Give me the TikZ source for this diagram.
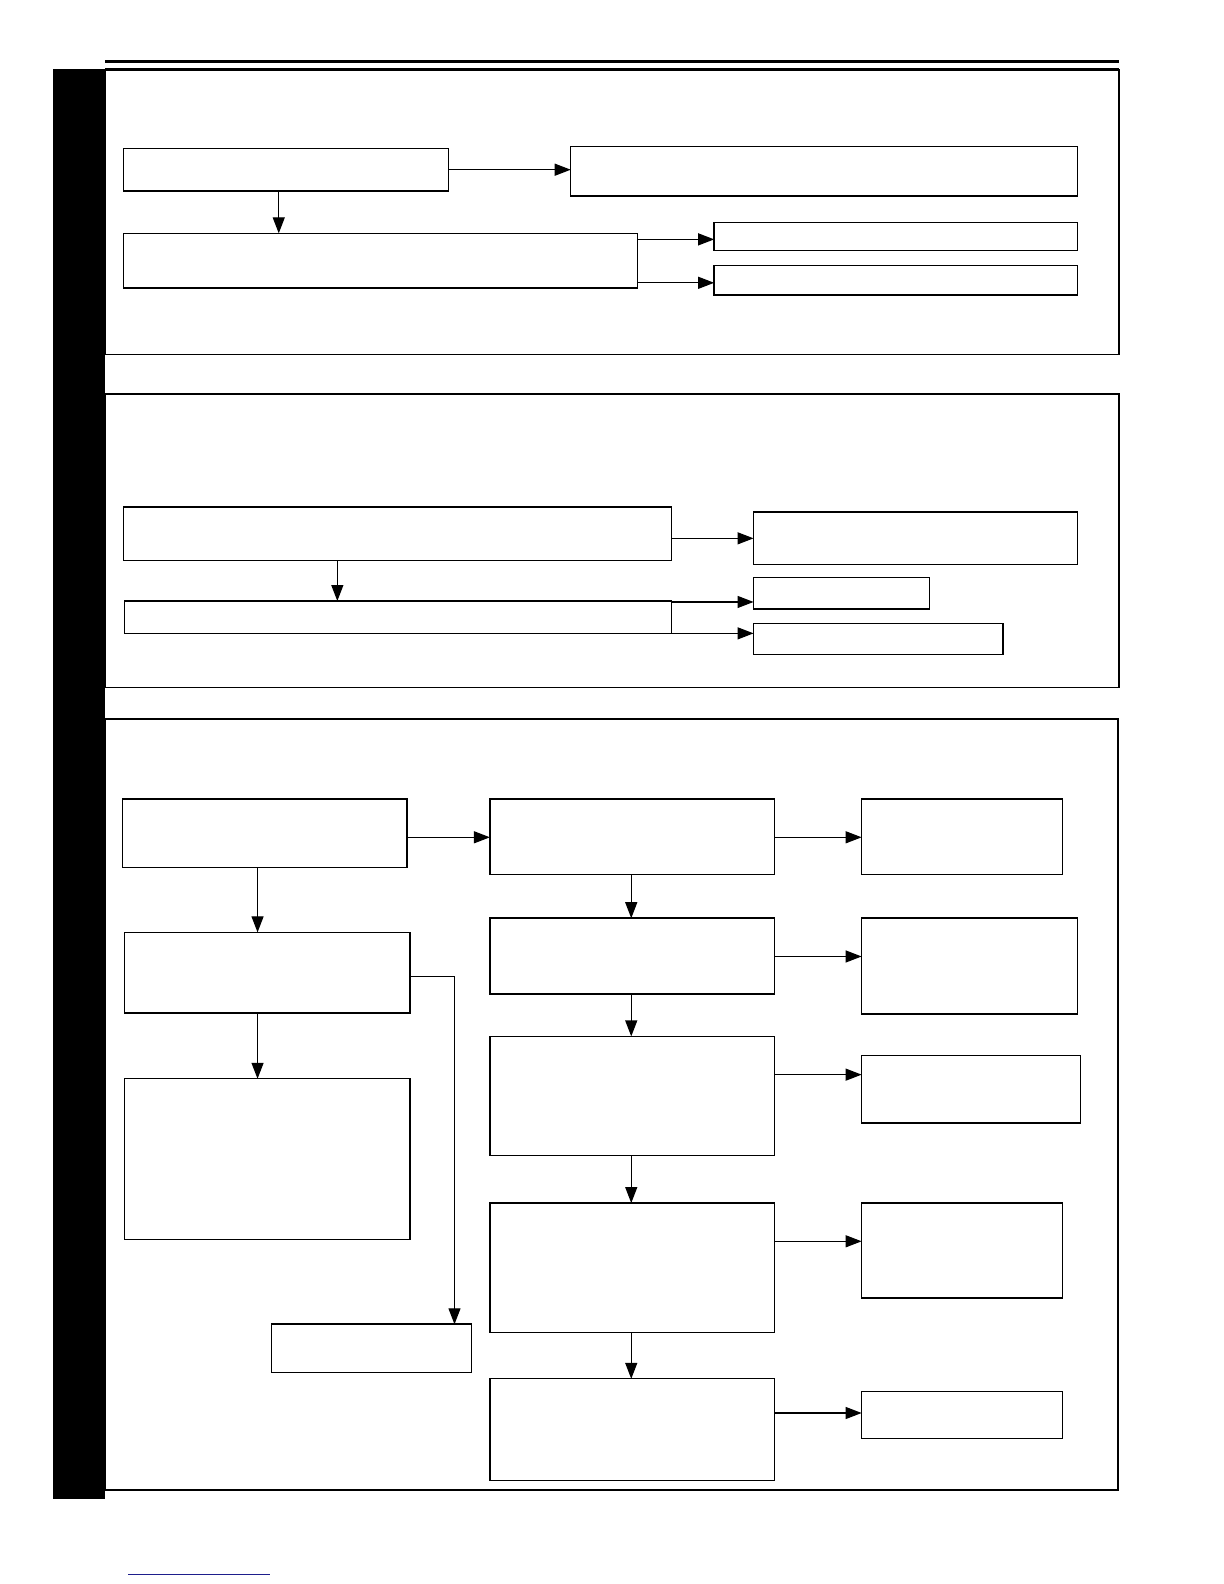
\documentclass[tikz,border=0pt]{standalone}
\usetikzlibrary{arrows.meta}
\begin{document}
\begin{tikzpicture}[x=1bp,y=-1bp,scale=1.01,transform shape,
  bx/.style={draw,line width=1.3bp,anchor=north west,inner sep=0pt,outer sep=0pt},
  arr/.style={line width=1.2bp,-{Triangle[length=16bp,width=12bp]}},
  plain/.style={line width=1.2bp}]
\useasboundingbox (0,0) rectangle (1211.88,1568.32);
\fill[white] (0,0) rectangle (1211.88,1568.32);
% header line and side bar
\draw[line width=3bp] (104,61) -- (1108,61);
\fill[black] (52,68) rectangle (104,1484);
% section frames
\draw[line width=1.3bp] (104,69) rectangle (1108,351);
\draw[line width=3bp] (104,69) -- (1108,69);
\draw[line width=1.3bp] (104,390) rectangle (1108,681);
\draw[line width=2bp] (104,712) rectangle (1107,1475);
% blue rule
\draw[line width=1.3bp,color={rgb,255:red,30;green,30;blue,140}] (127,1559) -- (267,1559);

% ---- section 1
\node[bx,minimum width=322bp,minimum height=42bp] (b11) at (122,147) {};
\node[bx,minimum width=502bp,minimum height=49bp] (b12) at (565,145) {};
\node[bx,minimum width=509bp,minimum height=54bp] (b13) at (122,231) {};
\node[bx,minimum width=360bp,minimum height=28bp] (b14) at (707,220) {};
\node[bx,minimum width=360bp,minimum height=29bp] (b15) at (707,263) {};
\draw[arr] (b11.east) -- (b11.east -| b12.west);
\draw[arr] (b11.south -| 276,0) -- (b13.north -| 276,0);
\draw[arr] (b13.east |- 0,237) -- (b14.west |- 0,237);
\draw[arr] (b13.east |- 0,280) -- (b15.west |- 0,280);

% ---- section 2
\node[bx,minimum width=543bp,minimum height=53bp] (b21) at (122,502) {};
\node[bx,minimum width=321bp,minimum height=52bp] (b22) at (746,507) {};
\node[bx,minimum width=542bp,minimum height=32bp] (b23) at (123,595) {};
\node[bx,minimum width=174bp,minimum height=31bp] (b24) at (746,572) {};
\node[bx,minimum width=247bp,minimum height=31bp] (b25) at (746,617) {};
\draw[arr] (b21.east |- 0,533) -- (b22.west |- 0,533);
\draw[arr] (b21.south -| 334,0) -- (b23.north -| 334,0);
\draw[arr] (b23.north east |- 0,596) -- (b24.west |- 0,596);
\draw[arr] (b23.south east) -- (b23.south east -| b25.west);

% ---- section 3
\node[bx,minimum width=282bp,minimum height=68bp] (c1) at (121,791) {};
\node[bx,minimum width=282bp,minimum height=75bp] (c2) at (485,791) {};
\node[bx,minimum width=199bp,minimum height=75bp] (c3) at (853,791) {};
\node[bx,minimum width=283bp,minimum height=80bp] (c4) at (123,923) {};
\node[bx,minimum width=283bp,minimum height=159bp] (c5) at (123,1068) {};
\node[bx,minimum width=198bp,minimum height=48bp] (c6) at (269,1311) {};
\node[bx,minimum width=282bp,minimum height=75bp] (c7) at (485,909) {};
\node[bx,minimum width=214bp,minimum height=95bp] (c8) at (853,909) {};
\node[bx,minimum width=282bp,minimum height=118bp] (c9) at (485,1026) {};
\node[bx,minimum width=217bp,minimum height=67bp] (c10) at (853,1045) {};
\node[bx,minimum width=282bp,minimum height=128bp] (c11) at (485,1191) {};
\node[bx,minimum width=199bp,minimum height=94bp] (c12) at (853,1191) {};
\node[bx,minimum width=282bp,minimum height=101bp] (c13) at (485,1365) {};
\node[bx,minimum width=199bp,minimum height=46bp] (c14) at (853,1378) {};

\draw[arr] (c1.east |- 0,829) -- (c2.west |- 0,829);
\draw[arr] (c2.east |- 0,829) -- (c3.west |- 0,829);
\draw[arr] (c1.south -| 255,0) -- (c4.north -| 255,0);
\draw[arr] (c4.south -| 255,0) -- (c5.north -| 255,0);
\draw[arr] (c4.east |- 0,967) -| (c6.north -| 450,0);
\draw[arr] (c2.south -| 625,0) -- (c7.north -| 625,0);
\draw[arr] (c7.east |- 0,947) -- (c8.west |- 0,947);
\draw[arr] (c7.south -| 625,0) -- (c9.north -| 625,0);
\draw[arr] (c9.east |- 0,1064) -- (c10.west |- 0,1064);
\draw[arr] (c9.south -| 625,0) -- (c11.north -| 625,0);
\draw[arr] (c11.east |- 0,1229) -- (c12.west |- 0,1229);
\draw[arr] (c11.south -| 625,0) -- (c13.north -| 625,0);
\draw[arr] (c13.east |- 0,1399) -- (c14.west |- 0,1399);
\end{tikzpicture}
\end{document}
